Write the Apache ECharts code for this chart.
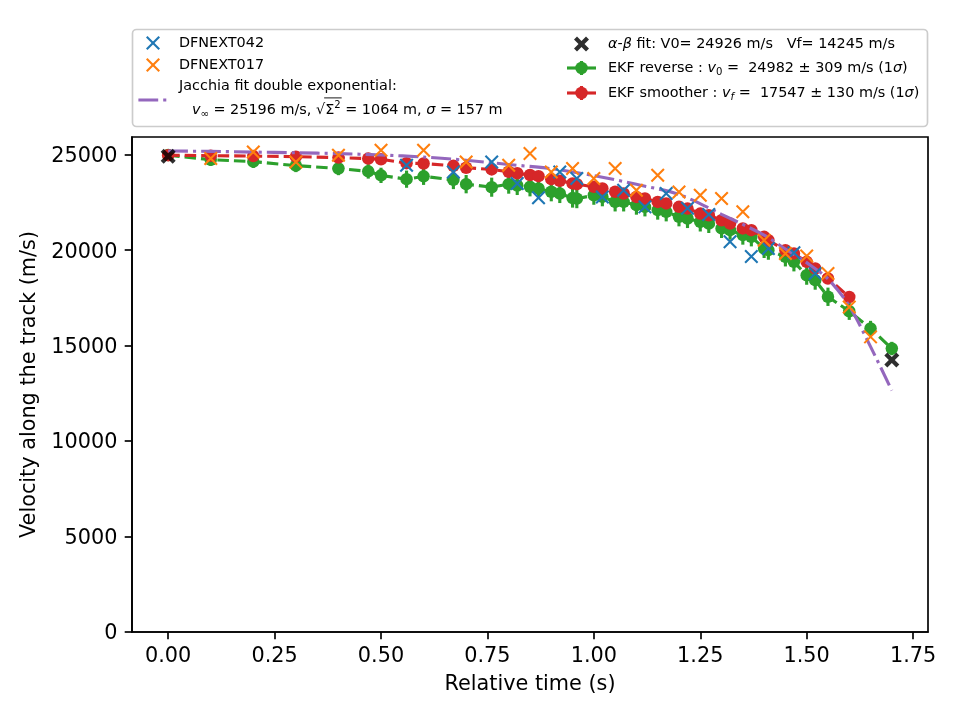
<!DOCTYPE html>
<html>
<head>
<meta charset="utf-8">
<script src="https://cdn.jsdelivr.net/npm/echarts@6/dist/echarts.min.js"></script>
<style>html,body{margin:0;padding:0;background:#fff}#c{width:960px;height:720px}</style>
</head>
<body>
<div id="c"></div>
<script>
// ---------------- data ----------------
const xTicks = [0, 0.25, 0.5, 0.75, 1.0, 1.25, 1.5, 1.75];
const yTicks = [0, 5000, 10000, 15000, 20000, 25000];

// DFNEXT042 (blue x)
const tBlue = [0.56, 0.67, 0.76, 0.82, 0.87, 0.92, 0.96, 1.02, 1.07, 1.12, 1.17, 1.22, 1.27, 1.32, 1.37, 1.41, 1.47, 1.52];
const vBlue = [24450, 24100, 24620, 23490, 22750, 24100, 23750, 22790, 23140, 22270, 22970, 22200, 21870, 20440, 19670, 20090, 19870, 18780];

// DFNEXT017 (orange x)
const tOrange = [0.10, 0.20, 0.30, 0.40, 0.50, 0.60, 0.70, 0.80, 0.85, 0.90, 0.95, 1.00, 1.05, 1.10, 1.15, 1.20, 1.25, 1.30, 1.35, 1.40, 1.45, 1.50, 1.55, 1.60, 1.65];
const vOrange = [24800, 25150, 24625, 24975, 25240, 25240, 24625, 24450, 25065, 24100, 24280, 23750, 24280, 23140, 23930, 23050, 22880, 22710, 22010, 20525, 19830, 19700, 18780, 17030, 15460];

// Jacchia fit double exponential
const tJac = [0, 0.1, 0.2, 0.3, 0.4, 0.5, 0.6, 0.7, 0.8, 0.9, 1.0, 1.1, 1.2, 1.3, 1.4, 1.45, 1.5, 1.55, 1.6, 1.65, 1.7];
const vJac = [25196, 25175, 25140, 25105, 25060, 24990, 24880, 24710, 24490, 24270, 23910, 23450, 22920, 21880, 20790, 20060, 19350, 18500, 17080, 14950, 12650];

// alpha-beta fit
const tAB = [0, 1.70];
const vAB = [24926, 14245];

// EKF reverse (green)
const tGreen = [0, 0.10, 0.20, 0.30, 0.40, 0.47, 0.50, 0.56, 0.60, 0.67, 0.70, 0.76, 0.80, 0.82, 0.85, 0.87, 0.90, 0.92, 0.95, 0.96, 1.00, 1.02, 1.05, 1.07, 1.10, 1.12, 1.15, 1.17, 1.20, 1.22, 1.25, 1.27, 1.30, 1.32, 1.35, 1.37, 1.40, 1.41, 1.45, 1.47, 1.50, 1.52, 1.55, 1.60, 1.65, 1.70];
const vGreen = [24982, 24740, 24640, 24430, 24280, 24130, 23920, 23720, 23870, 23680, 23460, 23300, 23460, 23390, 23320, 23230, 23060, 22970, 22730, 22700, 22880, 22800, 22530, 22530, 22360, 22270, 22100, 22010, 21750, 21660, 21480, 21400, 21140, 21050, 20790, 20700, 20090, 20000, 19650, 19390, 18690, 18430, 17560, 16800, 15900, 14850];
const eGreen = [309, 320, 330, 340, 350, 380, 400, 450, 450, 480, 480, 500, 500, 500, 500, 500, 500, 500, 500, 500, 500, 500, 500, 500, 500, 500, 500, 500, 500, 500, 500, 500, 500, 500, 500, 500, 500, 500, 500, 500, 500, 500, 480, 450, 400, 350];

// EKF smoother (red)
const tRed = [0, 0.10, 0.20, 0.30, 0.40, 0.47, 0.50, 0.56, 0.60, 0.67, 0.70, 0.76, 0.80, 0.82, 0.85, 0.87, 0.90, 0.92, 0.95, 0.96, 1.00, 1.02, 1.05, 1.07, 1.10, 1.12, 1.15, 1.17, 1.20, 1.22, 1.25, 1.27, 1.30, 1.32, 1.35, 1.37, 1.40, 1.41, 1.45, 1.47, 1.50, 1.52, 1.55, 1.60];
const vRed = [24975, 24950, 24930, 24900, 24850, 24800, 24760, 24560, 24540, 24420, 24320, 24230, 24110, 24030, 23940, 23880, 23720, 23640, 23500, 23460, 23320, 23230, 23060, 22970, 22790, 22710, 22530, 22450, 22270, 22180, 21920, 21830, 21570, 21400, 21140, 21050, 20700, 20520, 20000, 19830, 19390, 19040, 18520, 17547];
const eRed = [200, 200, 200, 200, 200, 200, 200, 190, 190, 190, 190, 180, 180, 180, 180, 180, 170, 170, 170, 170, 170, 160, 160, 160, 160, 160, 150, 150, 150, 150, 150, 150, 140, 140, 140, 140, 140, 140, 140, 130, 130, 130, 130, 130];

// ---------------- styling ----------------
const FONT = 'DejaVu Sans';
const C_BLUE = '#1f77b4', C_ORANGE = '#ff7f0e', C_GREEN = '#2ca02c', C_RED = '#d62728', C_PURPLE = '#9467bd';
const LW = 3.125;
const X_PATH = 'path://M0,0L10,10M10,0L0,10';
const XF_PATH = 'path://M2,0L5,3L8,0L10,2L7,5L10,8L8,10L5,7L2,10L0,8L3,5L0,2Z';

const zip = (a, b) => a.map((v, i) => [v, b[i]]);

function errSeries(ts, vs, es, color, z) {
  return {
    type: 'custom', z: z, silent: true,
    data: ts.map((t, i) => [t, vs[i] - es[i], vs[i] + es[i]]),
    encode: { x: 0, y: [1, 2] },
    renderItem: function (params, api) {
      const p1 = api.coord([api.value(0), api.value(1)]);
      const p2 = api.coord([api.value(0), api.value(2)]);
      return { type: 'line', shape: { x1: p1[0], y1: p1[1], x2: p2[0], y2: p2[1] },
               style: { stroke: color, lineWidth: LW } };
    }
  };
}

// ---------------- legend (graphic) ----------------
const mctx = document.createElement('canvas').getContext('2d');
function measure(text, size, italic) {
  mctx.font = (italic ? 'italic ' : '') + size + 'px "' + FONT + '"';
  return mctx.measureText(text).width;
}
const G = [];
function textRun(x, y, segs, size) {
  let cx = x; const spans = [];
  segs.forEach(s => {
    let fs = size, dy = 0, it = false;
    if (s[1] === 'i') it = true;
    if (s[1] === 'sub') { fs = size * 0.7; dy = size * 0.3; }
    if (s[1] === 'isub') { fs = size * 0.7; dy = size * 0.3; it = true; }
    if (s[1] === 'sup') { fs = size * 0.7; dy = -size * 0.33; }
    const w = measure(s[0], fs, it);
    G.push({ type: 'text', x: cx, y: y + dy, z: 101,
      style: { text: s[0], fontSize: fs, fontFamily: FONT, fontStyle: it ? 'italic' : 'normal', fill: '#000',
               align: 'left', verticalAlign: 'middle', textAlign: 'left', textVerticalAlign: 'middle' } });
    spans.push([cx, cx + w]);
    cx += w;
  });
  return spans;
}
function xIcon(cx, cy, color) {
  const r = 6.25;
  G.push({ type: 'line', z: 101, shape: { x1: cx - r, y1: cy - r, x2: cx + r, y2: cy + r }, style: { stroke: color, lineWidth: 2.1 } });
  G.push({ type: 'line', z: 101, shape: { x1: cx - r, y1: cy + r, x2: cx + r, y2: cy - r }, style: { stroke: color, lineWidth: 2.1 } });
}
function filledXIcon(cx, cy, size) {
  const base = [[2,0],[5,3],[8,0],[10,2],[7,5],[10,8],[8,10],[5,7],[2,10],[0,8],[3,5],[0,2]];
  const k = size / 10;
  G.push({ type: 'polygon', z: 101, shape: { points: base.map(p => [cx + (p[0] - 5) * k, cy + (p[1] - 5) * k]) },
           style: { fill: 'rgba(0,0,0,0.82)' } });
}
function errIcon(x0, x1, cy, color) {
  const cx = (x0 + x1) / 2;
  G.push({ type: 'line', z: 101, shape: { x1: x0, y1: cy, x2: x1, y2: cy }, style: { stroke: color, lineWidth: LW } });
  G.push({ type: 'line', z: 101, shape: { x1: cx, y1: cy - 7, x2: cx, y2: cy + 7 }, style: { stroke: color, lineWidth: LW } });
  G.push({ type: 'circle', z: 101, shape: { cx: cx, cy: cy, r: 6.25 }, style: { fill: color } });
}

const FS = 14.4;
G.push({ type: 'rect', z: 100, shape: { x: 132.5, y: 29.5, width: 795, height: 97, r: 4 },
         style: { fill: 'rgba(255,255,255,0.8)', stroke: '#cccccc', lineWidth: 1.67 } });
// left column
xIcon(153, 43, C_BLUE);
textRun(179, 43, [['DFNEXT042', 'n']], FS);
xIcon(153, 65, C_ORANGE);
textRun(179, 65, [['DFNEXT017', 'n']], FS);
G.push({ type: 'line', z: 101, shape: { x1: 138.4, y1: 100, x2: 167.4, y2: 100 },
         style: { stroke: C_PURPLE, lineWidth: LW, lineDash: [19.8, 5, 3.1, 5] } });
textRun(179, 86, [['Jacchia fit double exponential:', 'n']], FS);
const sp = textRun(192, 110, [['v', 'i'], ['\u221E', 'sub'], [' = 25196 m/s, ', 'n'], ['\u221A', 'n'], ['\u03A3', 'n'], ['2', 'sup'],
                              [' = 1064 m, ', 'n'], ['\u03C3', 'i'], [' = 157 m', 'n']], FS);
G.push({ type: 'line', z: 101, shape: { x1: sp[3][1] - 1, y1: 110 - FS * 0.84, x2: sp[5][1] + 1, y2: 110 - FS * 0.84 },
         style: { stroke: '#000', lineWidth: 0.9 } });
// right column
filledXIcon(581.5, 44, 15);
textRun(608, 44, [['\u03B1', 'i'], ['-', 'n'], ['\u03B2', 'i'], [' fit: V0= 24926 m/s   Vf= 14245 m/s', 'n']], FS);
errIcon(567, 596, 68, C_GREEN);
textRun(608, 68, [['EKF reverse : ', 'n'], ['v', 'i'], ['0', 'sub'], [' =  24982 \u00B1 309 m/s (1', 'n'], ['\u03C3', 'i'], [')', 'n']], FS);
errIcon(567, 596, 93, C_RED);
textRun(608, 93, [['EKF smoother : ', 'n'], ['v', 'i'], ['f', 'isub'], [' =  17547 \u00B1 130 m/s (1', 'n'], ['\u03C3', 'i'], [')', 'n']], FS);

// ---------------- chart ----------------
const axisFont = { color: '#000', fontSize: 20.8, fontFamily: FONT };
const chart = echarts.init(document.getElementById('c'), null, { renderer: 'canvas' });
chart.setOption({
  animation: false,
  backgroundColor: '#fff',
  grid: { left: 132, right: 32, top: 137, bottom: 88, show: true, borderColor: '#000', borderWidth: 1.67,
          backgroundColor: 'transparent', containLabel: false, outerBoundsMode: 'none' },
  xAxis: {
    type: 'value', min: -0.085, max: 1.785,
    splitLine: { show: false },
    axisLine: { onZero: false, lineStyle: { color: '#000', width: 1.67 } },
    axisTick: { show: true, length: 7.3, customValues: xTicks, lineStyle: { color: '#000', width: 1.67 } },
    axisLabel: Object.assign({ customValues: xTicks, margin: 14.6, formatter: v => Number(v).toFixed(2) }, axisFont),
    name: 'Relative time (s)', nameLocation: 'middle', nameGap: 42, nameTextStyle: axisFont
  },
  yAxis: {
    type: 'value', min: 0, max: 25930,
    splitLine: { show: false },
    axisLine: { onZero: false, lineStyle: { color: '#000', width: 1.67 } },
    axisTick: { show: true, length: 7.3, customValues: yTicks, lineStyle: { color: '#000', width: 1.67 } },
    axisLabel: Object.assign({ customValues: yTicks, margin: 14.6,
      formatter: v => '{a|' + String(Math.round(v)) + '}',
      rich: { a: { color: '#000', fontSize: 20.8, fontFamily: FONT, padding: [4, 0, 0, 0] } } }, axisFont),
    name: 'Velocity along the track (m/s)', nameLocation: 'middle', nameGap: 81, nameTextStyle: axisFont
  },
  series: [
    errSeries(tGreen, vGreen, eGreen, C_GREEN, 2),
    { name: 'EKF reverse', type: 'line', z: 3, data: zip(tGreen, vGreen), symbol: 'circle', symbolSize: 12.5,
      itemStyle: { color: C_GREEN, opacity: 1 }, lineStyle: { color: C_GREEN, width: LW, type: [11.5, 5] } },
    errSeries(tRed, vRed, eRed, C_RED, 4),
    { name: 'EKF smoother', type: 'line', z: 5, data: zip(tRed, vRed), symbol: 'circle', symbolSize: 12.5,
      itemStyle: { color: C_RED, opacity: 1 }, lineStyle: { color: C_RED, width: LW, type: [11.5, 5] } },
    { name: 'Jacchia fit double exponential', type: 'line', z: 6, data: zip(tJac, vJac), showSymbol: false, symbol: 'none',
      smooth: 0.3, lineStyle: { color: C_PURPLE, width: LW, type: [19.8, 5, 3.1, 5] } },
    { name: 'DFNEXT042', type: 'scatter', z: 7, data: zip(tBlue, vBlue), symbol: X_PATH, symbolSize: 12.5,
      itemStyle: { color: 'none', borderColor: C_BLUE, borderWidth: 2.1, opacity: 1 } },
    { name: 'DFNEXT017', type: 'scatter', z: 8, data: zip(tOrange, vOrange), symbol: X_PATH, symbolSize: 12.5,
      itemStyle: { color: 'none', borderColor: C_ORANGE, borderWidth: 2.1, opacity: 1 } },
    { name: '\u03B1-\u03B2 fit', type: 'scatter', z: 9, data: zip(tAB, vAB), symbol: XF_PATH, symbolSize: 15,
      itemStyle: { color: 'rgba(0,0,0,0.82)', opacity: 1 } }
  ],
  graphic: G
});
</script>
</body>
</html>
